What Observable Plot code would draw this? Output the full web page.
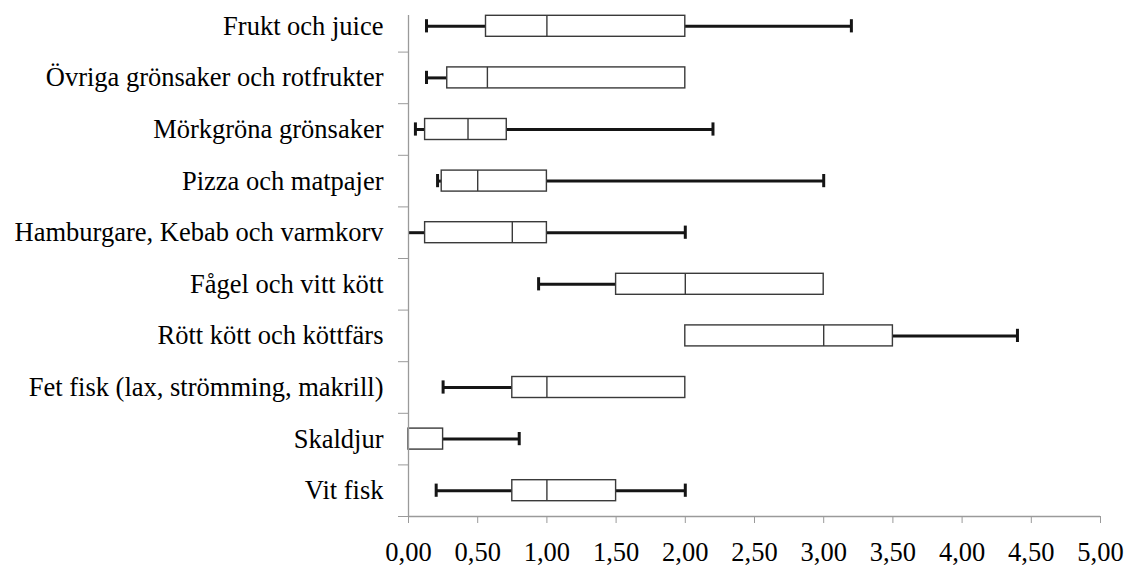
<!DOCTYPE html>
<html>
<head>
<meta charset="utf-8">
<script src="https://cdn.jsdelivr.net/npm/d3@7"></script>
<script src="https://cdn.jsdelivr.net/npm/@observablehq/plot@0.6"></script>
<style>
  html, body { margin: 0; padding: 0; background: #fff; }
  #chart svg text { font-family: "Liberation Serif", "Times New Roman", serif; }
</style>
</head>
<body>
<div id="chart"></div>
<script>
const categories = [
  "Frukt och juice",
  "Övriga grönsaker och rotfrukter",
  "Mörkgröna grönsaker",
  "Pizza och matpajer",
  "Hamburgare, Kebab och varmkorv",
  "Fågel och vitt kött",
  "Rött kött och köttfärs",
  "Fet fisk (lax, strömming, makrill)",
  "Skaldjur",
  "Vit fisk"
];
const minValues    = [0.13, 0.13, 0.05, 0.21, 0.00, 0.94, 2.00, 0.25, 0.00, 0.20];
const q1Values     = [0.56, 0.28, 0.12, 0.24, 0.12, 1.50, 2.00, 0.75, 0.00, 0.75];
const medianValues = [1.00, 0.57, 0.43, 0.50, 0.75, 2.00, 3.00, 1.00, 0.00, 1.00];
const q3Values     = [2.00, 2.00, 0.71, 1.00, 1.00, 3.00, 3.50, 2.00, 0.25, 1.50];
const maxValues    = [3.20, 2.00, 2.20, 3.00, 2.00, 3.00, 4.40, 2.00, 0.80, 2.00];
const xTicks = [0, 0.5, 1, 1.5, 2, 2.5, 3, 3.5, 4, 4.5, 5];

const n = categories.length;
const rows = categories.map((c, i) => ({
  name: c,
  yc: n - i - 0.5,
  min: minValues[i], q1: q1Values[i], median: medianValues[i], q3: q3Values[i], max: maxValues[i]
}));
const boxHalf = 0.2035;
const capHalf = 0.128;
const axisColor = "#9a9a9a";
const boxStroke = "#3a3a3a";
const whiskerColor = "#151515";
const font = "Liberation Serif";
const fs = 26.5;
const centers = rows.map(r => r.yc);
const separators = d3.range(0, n);

const chart = Plot.plot({
  width: 1124,
  height: 568,
  marginLeft: 408,
  marginRight: 24,
  marginTop: 0,
  marginBottom: 52,
  style: { background: "#fff", color: "#000" },
  x: { domain: [0, 5], axis: null },
  y: { domain: [0, n], axis: null },
  marks: [
    // lower whiskers
    Plot.ruleY(rows.filter(r => r.min < r.q1), { y: "yc", x1: "min", x2: "q1", stroke: whiskerColor, strokeWidth: 3 }),
    Plot.ruleX(rows.filter(r => r.min < r.q1 && r.min > 0), { x: "min", y1: r => r.yc - capHalf, y2: r => r.yc + capHalf, stroke: whiskerColor, strokeWidth: 3 }),
    // upper whiskers
    Plot.ruleY(rows.filter(r => r.max > r.q3), { y: "yc", x1: "q3", x2: "max", stroke: whiskerColor, strokeWidth: 3 }),
    Plot.ruleX(rows.filter(r => r.max > r.q3), { x: "max", y1: r => r.yc - capHalf, y2: r => r.yc + capHalf, stroke: whiskerColor, strokeWidth: 3 }),
    // boxes
    Plot.rect(rows, { x1: "q1", x2: "q3", y1: r => r.yc - boxHalf, y2: r => r.yc + boxHalf, fill: "#fff", stroke: boxStroke, strokeWidth: 1.4 }),
    Plot.ruleX(rows.filter(r => r.median > r.q1 && r.median < r.q3), { x: "median", y1: r => r.yc - boxHalf, y2: r => r.yc + boxHalf, stroke: boxStroke, strokeWidth: 1.4 }),
    // axes
    Plot.ruleY([0], { stroke: axisColor, strokeWidth: 1.3 }),
    Plot.ruleX([0], { y1: 0, y2: n - 0.29, stroke: axisColor, strokeWidth: 1.3 }),
    Plot.axisY({ ticks: separators, tickSize: 10, tickFormat: () => "", stroke: axisColor, label: null }),
    Plot.axisY({ ticks: centers, tickSize: 0, tickPadding: 25, tickFormat: v => categories[Math.round(n - 0.5 - v)], fill: "#000", label: null, fontFamily: font, fontSize: fs }),
    Plot.axisX({ ticks: xTicks, tickSize: 7, tickPadding: 19, tickFormat: d => d.toFixed(2).replace(".", ","), stroke: axisColor, fill: "#000", label: null, fontFamily: font, fontSize: fs })
  ]
});
document.getElementById("chart").appendChild(chart);
</script>
</body>
</html>
